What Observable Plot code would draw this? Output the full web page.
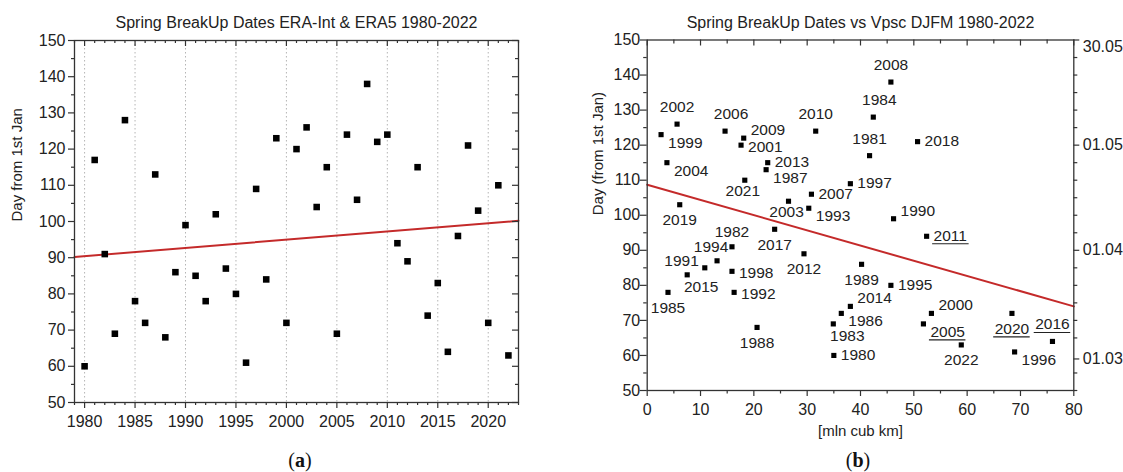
<!DOCTYPE html>
<html><head><meta charset="utf-8">
<script src="https://cdn.jsdelivr.net/npm/d3@7"></script>
<script src="https://cdn.jsdelivr.net/npm/@observablehq/plot@0.6"></script>
<style>
html,body{margin:0;padding:0;background:#fff;}
body{width:1123px;height:472px;overflow:hidden;position:relative;font-family:"Liberation Sans",Arial,sans-serif;color:#222;}
.panel{position:absolute;top:0;}
.cap{position:absolute;top:449px;font-family:"Liberation Serif","DejaVu Serif",serif;font-size:20px;color:#111;transform:translateX(-50%);white-space:nowrap;}
.cap b{font-weight:bold;}
</style></head><body>
<div id="a" class="panel" style="left:0px"></div>
<div id="b" class="panel" style="left:560px"></div>
<div class="cap" style="left:300px">(<b>a</b>)</div>
<div class="cap" style="left:858px">(<b>b</b>)</div>
<script>
// ---------------- data ----------------
const years = [1980,1981,1982,1983,1984,1985,1986,1987,1988,1989,1990,1991,1992,1993,1994,1995,1996,1997,1998,1999,2000,2001,2002,2003,2004,2005,2006,2007,2008,2009,2010,2011,2012,2013,2014,2015,2016,2017,2018,2019,2020,2021,2022];
const breakupDay = [60,117,91,69,128,78,72,113,68,86,99,85,78,102,87,80,61,109,84,123,72,120,126,104,115,69,124,106,138,122,124,94,89,115,74,83,64,96,121,103,72,110,63];
const vpsc = [35.0,41.7,15.9,34.9,42.4,3.9,36.4,22.3,20.6,40.2,46.2,10.8,16.3,30.3,13.1,45.7,68.9,38.1,15.9,2.6,53.3,17.6,5.6,26.5,3.7,51.8,14.6,30.8,45.7,18.1,31.6,52.4,29.4,22.6,38.1,7.5,76.0,23.9,50.7,6.1,68.4,18.3,58.9];
const labelPlacement = ["e","n","nc","sr","nr","s","se","se","s","s","ne","nw","e2","se","nl","e","se","e","e2","se","ne","e2","n","s2","se","se","nr","e","n","ne","n","e","s","e","ne","sr","n","s","e","s","s","s2","s"];
const underlinedYears = [2005,2011,2016,2020];
const trendAYears = [1979, 2023];
const trendADays = [90.2, 100.2];
const trendBVpsc = [0, 80];
const trendBDays = [108.7, 74.0];
const yearTicks = [1980,1985,1990,1995,2000,2005,2010,2015,2020];
const dayTicks = [50,60,70,80,90,100,110,120,130,140,150];
const vpscTicks = [0,10,20,30,40,50,60,70,80];
const dateTickDays = [150,120,90,59];
const dateTickLabels = ["30.05","01.05","01.04","01.03"];
const titleA = "Spring BreakUp Dates ERA-Int & ERA5 1980-2022";
const titleB = "Spring BreakUp Dates vs Vpsc DJFM 1980-2022";
const yLabelA = "Day from 1st Jan";
const yLabelB = "Day (from 1st Jan)";
const xLabelB = "[mln cub km]";

// ---------------- tables ----------------
const rows = years.map((y,i)=>({year:y, day:breakupDay[i], v:vpsc[i], pos:labelPlacement[i], ul:underlinedYears.includes(y)}));
const trendA = trendAYears.map((x,i)=>({x, y:trendADays[i]}));
const trendB = trendBVpsc.map((x,i)=>({x, y:trendBDays[i]}));
const dateLabel = d => dateTickLabels[dateTickDays.indexOf(d)];

const INK = "#222";
const AX = "#333";
const RED = "#c42a2a";
const font = "'Liberation Sans', Arial, sans-serif";

// tick helpers (lengths in px, via insets relative to the frame)
function ticksBottomOut(vals, fh, len){ return Plot.ruleX(vals,{x:d=>d, insetTop:fh, insetBottom:-len, stroke:AX, strokeWidth:1.2}); }
function ticksTopIn(vals, fh, len){ return Plot.ruleX(vals,{x:d=>d, insetBottom:fh-len, stroke:AX, strokeWidth:1.2}); }
function ticksLeftOut(vals, fw, len){ return Plot.ruleY(vals,{y:d=>d, insetRight:fw, insetLeft:-len, stroke:AX, strokeWidth:1.2}); }
function ticksRightIn(vals, fw, len){ return Plot.ruleY(vals,{y:d=>d, insetLeft:fw-len, stroke:AX, strokeWidth:1.2}); }
function ticksRightOut(vals, fw, len){ return Plot.ruleY(vals,{y:d=>d, insetLeft:fw, insetRight:-len, stroke:AX, strokeWidth:1.2}); }

// ---------------- panel (a) ----------------
{
  const W=560, H=430, mL=74, mR=42, mT=40, mB=28;
  const fw=W-mL-mR, fh=H-mT-mB;
  const minorYears = d3.range(1979,2024).filter(y=>y%5!==0);
  const minorDays = d3.range(55,150,10);
  const chart = Plot.plot({
    width:W, height:H, marginLeft:mL, marginRight:mR, marginTop:mT, marginBottom:mB,
    x:{domain:[1979,2023]}, y:{domain:[50,150]},
    style:{fontFamily:font, fontSize:"16px", color:INK, background:"transparent", overflow:"visible"},
    marks:[
      Plot.ruleX(yearTicks,{x:d=>d, stroke:"#b5b5b5", strokeWidth:1, strokeDasharray:"1.5,2.5"}),
      Plot.line(trendA,{x:"x", y:"y", stroke:RED, strokeWidth:2}),
      Plot.dot(rows,{x:"year", y:"day", symbol:"square", r:3.7, fill:"#000", stroke:"none"}),
      Plot.frame({stroke:AX, strokeWidth:1.3}),
      ticksBottomOut(yearTicks, fh, 6), ticksBottomOut(minorYears, fh, 3),
      ticksTopIn(yearTicks, fh, 6), ticksTopIn(minorYears, fh, 3),
      ticksLeftOut(dayTicks, fw, 6), ticksLeftOut(minorDays, fw, 3),
      ticksRightIn(dayTicks, fw, 6), ticksRightIn(minorDays, fw, 3),
      Plot.axisX(yearTicks,{anchor:"bottom", tickSize:0, tickPadding:13, fontSize:16, fill:INK, tickFormat:d=>String(d), label:null}),
      Plot.axisY(dayTicks,{anchor:"left", tickSize:0, tickPadding:9, fontSize:16, fill:INK, tickFormat:d=>String(d), label:null}),
      Plot.text([titleA],{frameAnchor:"top", dy:-24, fontSize:16, fill:INK, text:d=>d}),
      Plot.text([yLabelA],{frameAnchor:"left", dx:-57, rotate:-90, fontSize:15, fill:INK, text:d=>d})
    ]
  });
  document.getElementById("a").appendChild(chart);
}

// ---------------- panel (b) ----------------
{
  const W=563, H=445, mL=86.7, mR=49.7, mT=39.5, mB=55;
  const fw=W-mL-mR, fh=H-mT-mB;
  const minorV = d3.range(5,80,10);
  const minorDays = d3.range(55,150,10);
  const minorDates = d3.range(50,151,5).filter(d=>!dateTickDays.includes(d) && d!==60);
  const FS = 15.5;
  const TW = 34.5; // approx. width of a 4-digit label
  const offsets = {
    n:{dx:0, dy:-17, textAnchor:"middle"},
    nc:{dx:0, dy:-14.5, textAnchor:"middle"},
    nl:{dx:-6, dy:-14, textAnchor:"middle"},
    nr:{dx:6, dy:-17, textAnchor:"middle"},
    s:{dx:0, dy:15.5, textAnchor:"middle"},
    s2:{dx:-2, dy:11, textAnchor:"middle"},
    sr:{dx:14, dy:12, textAnchor:"middle"},
    e:{dx:7, dy:-0.5, textAnchor:"start"},
    e2:{dx:7, dy:2, textAnchor:"start"},
    se:{dx:7, dy:8, textAnchor:"start"},
    ne:{dx:7, dy:-8, textAnchor:"start"},
    nw:{dx:-6, dy:-7, textAnchor:"end"}
  };
  const labelMarks = [];
  for (const [code,o] of Object.entries(offsets)) {
    const sel = rows.filter(r=>r.pos===code);
    if (sel.length) labelMarks.push(Plot.text(sel,{x:"v", y:"day", text:d=>String(d.year), ...o, fontSize:FS, fill:INK}));
    const ul = sel.filter(r=>r.ul);
    if (ul.length) {
      const left = o.textAnchor==="start" ? o.dx-1 : o.textAnchor==="end" ? o.dx-TW-1 : o.dx-TW/2-1;
      const right = left + TW + 2;
      labelMarks.push(Plot.ruleY(ul,{y:"day", x1:"v", x2:"v", insetLeft:left, insetRight:-right, dy:o.dy+8, stroke:INK, strokeWidth:1.1}));
    }
  }
  const chart = Plot.plot({
    width:W, height:H, marginLeft:mL, marginRight:mR, marginTop:mT, marginBottom:mB,
    x:{domain:[0,80]}, y:{domain:[50,150]},
    style:{fontFamily:font, fontSize:"16px", color:INK, background:"transparent", overflow:"visible"},
    marks:[
      Plot.line(trendB,{x:"x", y:"y", stroke:RED, strokeWidth:2}),
      Plot.dot(rows,{x:"v", y:"day", symbol:"square", r:2.9, fill:"#000", stroke:"none"}),
      ...labelMarks,
      Plot.frame({stroke:AX, strokeWidth:1.3}),
      ticksBottomOut(vpscTicks, fh, 6), ticksBottomOut(minorV, fh, 3.5),
      ticksTopIn(vpscTicks, fh, 6), ticksTopIn(minorV, fh, 4),
      ticksLeftOut(dayTicks, fw, 7), ticksLeftOut(minorDays, fw, 3.5),
      ticksRightOut(dateTickDays, fw, 6), ticksRightOut(minorDates, fw, 4),
      Plot.axisX(vpscTicks,{anchor:"bottom", tickSize:0, tickPadding:13, fontSize:16, fill:INK, tickFormat:d=>String(d), label:null}),
      Plot.axisY(dayTicks,{anchor:"left", tickSize:0, tickPadding:7, fontSize:16, fill:INK, tickFormat:d=>String(d), label:null}),
      Plot.axisY(dateTickDays.slice(1),{anchor:"right", tickSize:0, tickPadding:9, fontSize:16, fill:INK, tickFormat:dateLabel, label:null}),
      Plot.text(dateTickDays.slice(0,1),{y:d=>d, frameAnchor:"right", dx:9, dy:7, textAnchor:"start", fontSize:16, fill:INK, text:dateLabel}),
      Plot.text([titleB],{frameAnchor:"top", dy:-23.5, fontSize:16, fill:INK, text:d=>d}),
      Plot.text([yLabelB],{frameAnchor:"left", dx:-49, rotate:-90, fontSize:15, fill:INK, text:d=>d}),
      Plot.text([xLabelB],{frameAnchor:"bottom", dy:45, fontSize:15, fill:INK, text:d=>d})
    ]
  });
  document.getElementById("b").appendChild(chart);
}
</script>
</body></html>
